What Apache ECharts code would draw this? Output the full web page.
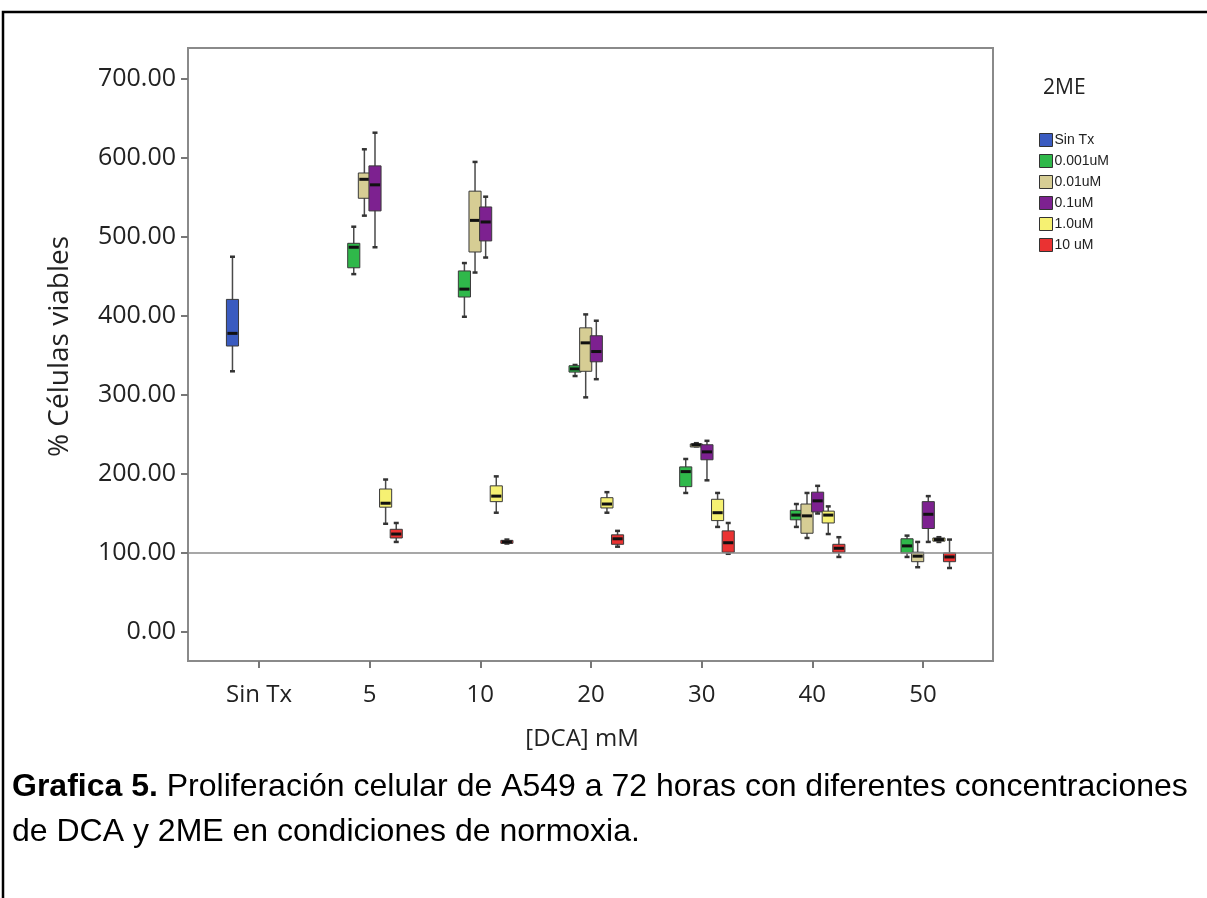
<!DOCTYPE html>
<html>
<head>
<meta charset="utf-8">
<script src="https://cdn.jsdelivr.net/npm/echarts@6/dist/echarts.min.js"></script>
<style>
  html, body { margin: 0; padding: 0; background: #fff; }
  #main { width: 1207px; height: 898px; }
</style>
</head>
<body>
<div id="main"></div>
<script>
// categorias de DCA
const categories = ['Sin Tx', '5', '10', '20', '30', '40', '50'];
// grupos de 2ME
const seriesNames = ['Sin Tx', '0.001uM', '0.01uM', '0.1uM', '1.0uM', '10 uM'];
const seriesColors = ['#3a5bc0', '#2fb84a', '#d6cd94', '#7d2190', '#f6f172', '#ea3232'];

// [min, Q1, mediana, Q3, max] por categoria, null = sin caja
const boxSinTx = [[330, 362, 378, 421, 475], null, null, null, null, null, null];
const box0001 = [null, [453, 461, 487, 492, 513], [399, 424, 434, 457, 467], [324, 329, 333, 337, 338], [176, 184, 203, 209, 219], [133, 142, 148, 154, 162], [95, 100, 109, 118, 122]];
const box001 = [null, [527, 549, 573, 581, 611], [455, 481, 521, 558, 595], [297, 330, 366, 385, 402], [235, 236, 237, 238, 239], [119, 125, 147, 162, 176], [82, 89, 96, 101, 114]];
const box01 = [null, [487, 533, 566, 590, 632], [474, 495, 519, 538, 551], [320, 342, 355, 375, 394], [192, 218, 228, 237, 242], [150, 152, 166, 177, 185], [114, 131, 149, 165, 172]];
const box10 = [null, [137, 158, 163, 181, 193], [151, 165, 172, 185, 197], [151, 157, 162, 170, 177], [133, 141, 151, 168, 176], [124, 138, 148, 153, 159], [114, 115, 117, 119, 120]];
const box100 = [null, [114, 119, 124, 130, 138], [112, 113, 114, 116, 117], [108, 111, 118, 123, 128], [99, 101, 113, 128, 138], [95, 101, 106, 111, 120], [81, 89, 95, 100, 117]];
const allBoxes = [boxSinTx, box0001, box001, box01, box10, box100];

// eje Y visible
const yMin = 0;
const yMax = 700;
const yStep = 100;
// rango del marco completo (el marco sobresale del 0 y del 700)
const frameMin = -36.7;
const frameMax = 739.2;
const refLine = 100;

const myChart = echarts.init(document.getElementById('main'));

// dibuja una caja en su posicion dentro del grupo
const makeRender = (slot) => (params, api) => {
  const ci = api.value(0);
  const band = api.size([1, 0])[0];
  const step = band * 0.096;
  const x = api.coord([ci, 0])[0] + (slot - 2.5) * step;
  const w = step + 1.5;
  const ys = [1, 2, 3, 4, 5].map((d) => api.coord([ci, api.value(d)])[1]);
  const lo = ys[0], q1 = ys[1], md = ys[2], q3 = ys[3], hi = ys[4];
  const color = seriesColors[slot];
  return {
    type: 'group',
    children: [
      { type: 'line', shape: { x1: x, y1: hi, x2: x, y2: lo }, style: { stroke: '#4a4a4a', lineWidth: 1.5 } },
      { type: 'line', shape: { x1: x - 2.5, y1: hi, x2: x + 2.5, y2: hi }, style: { stroke: '#333', lineWidth: 2.5 } },
      { type: 'line', shape: { x1: x - 2.5, y1: lo, x2: x + 2.5, y2: lo }, style: { stroke: '#333', lineWidth: 2.5 } },
      { type: 'rect', shape: { x: x - w / 2, y: q3, width: w, height: Math.max(q1 - q3, 3) }, style: { fill: color, stroke: '#3a3a3a', lineWidth: 1 } },
      { type: 'line', shape: { x1: x - w / 2 + 1, y1: md, x2: x + w / 2 - 1, y2: md }, style: { stroke: '#111', lineWidth: 3 } }
    ]
  };
};

const boxSeries = allBoxes.map((boxes, slot) => ({
  name: seriesNames[slot],
  type: 'custom',
  xAxisIndex: 1,
  yAxisIndex: 1,
  itemStyle: { color: seriesColors[slot] },
  encode: { x: 0, y: [1, 2, 3, 4, 5] },
  renderItem: makeRender(slot),
  data: boxes.map((b, i) => (b ? [i].concat(b) : null)).filter(Boolean)
}));

const labelFont = 'Open Sans';

myChart.setOption({
  animation: false,
  title: {
    text: '2ME',
    left: 1038,
    top: 73,
    textStyle: { fontSize: 21, fontWeight: 'normal', fontFamily: labelFont, color: '#222' }
  },
  legend: {
    orient: 'vertical',
    left: 1034,
    top: 128,
    icon: 'rect',
    itemWidth: 13,
    itemHeight: 13,
    itemGap: 7,
    data: seriesNames,
    itemStyle: { borderColor: '#333', borderWidth: 1 },
    textStyle: { fontSize: 14, fontFamily: 'Liberation Sans', color: '#222', padding: [0, 0, 0, -3] }
  },
  grid: [
    { left: 188, right: 214, top: 79, bottom: 266 },
    { left: 203.7, right: 228.7, top: 48, bottom: 237 }
  ],
  xAxis: [
    { gridIndex: 0, type: 'value', min: 0, max: 1, show: false },
    {
      gridIndex: 1,
      type: 'category',
      data: categories,
      axisLine: { show: false, onZero: false },
      axisTick: { show: true, alignWithLabel: true, length: 7, lineStyle: { color: '#777', width: 2 } },
      axisLabel: { fontSize: 24, fontFamily: labelFont, color: '#222', margin: 22 },
      name: '[DCA] mM',
      nameLocation: 'middle',
      nameGap: 66,
      nameTextStyle: { fontSize: 24, fontFamily: labelFont, color: '#222', padding: [0, 18, 0, 0] }
    }
  ],
  yAxis: [
    {
      gridIndex: 0,
      type: 'value',
      min: yMin,
      max: yMax,
      interval: yStep,
      axisLine: { show: false },
      axisTick: { show: true, length: 7, lineStyle: { color: '#777', width: 2 } },
      splitLine: { show: false },
      axisLabel: { fontSize: 25, fontFamily: labelFont, color: '#222', margin: 12, formatter: (v) => v.toFixed(2) },
      name: '% Células viables',
      nameLocation: 'middle',
      nameGap: 114,
      nameTextStyle: { fontSize: 28, fontFamily: labelFont, color: '#222', padding: [0, 0, 0, 18] }
    },
    { gridIndex: 1, type: 'value', min: frameMin, max: frameMax, show: false }
  ],
  graphic: [
    // marco del grafico
    { type: 'rect', silent: true, shape: { x: 188, y: 48, width: 805, height: 613 }, style: { fill: null, stroke: '#8a8a8a', lineWidth: 2 } },
    // borde negro de la pagina
    { type: 'polyline', silent: true, shape: { points: [[3, 898], [3, 12], [1207, 12]] }, style: { fill: null, stroke: '#000', lineWidth: 2.5 } },
    {
      type: 'text',
      left: 12,
      top: 765,
      style: {
        text: '{b|Grafica 5.} Proliferación celular de A549 a 72 horas con diferentes concentraciones\nde DCA y 2ME en condiciones de normoxia.',
        fontSize: 32,
        fontFamily: 'Liberation Sans',
        fill: '#000',
        lineHeight: 45,
        rich: { b: { fontWeight: 'bold', fontSize: 32, fontFamily: 'Liberation Sans', fill: '#000' } }
      }
    }
  ],
  series: [
    {
      name: 'ref',
      type: 'line',
      xAxisIndex: 0,
      yAxisIndex: 0,
      symbol: 'none',
      silent: true,
      lineStyle: { color: '#8a8a8a', width: 1.5 },
      data: [[0, refLine], [1, refLine]]
    }
  ].concat(boxSeries)
});
</script>
</body>
</html>
